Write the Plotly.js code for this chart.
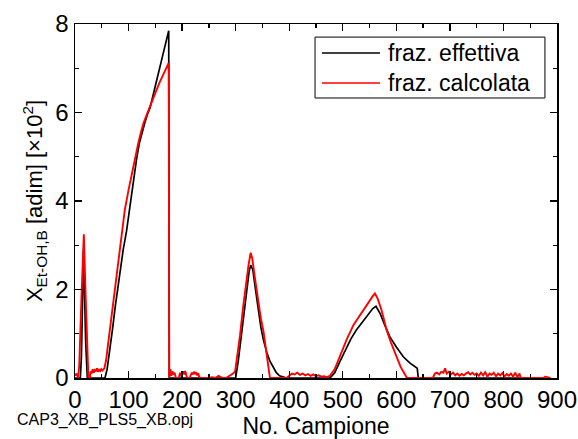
<!DOCTYPE html>
<html><head><meta charset="utf-8">
<script src="https://cdn.plot.ly/plotly-3.0.1.min.js"></script>
<style>html,body{margin:0;padding:0;background:#fff}#chart{width:578px;height:439px}</style>
</head><body><div id="chart"></div>
<script>
// frazione effettiva (black)
const effX = [0,10,12,16,20,23,50,56,60,65,70,75,80,85,90,96,100,105,110,115,120,125,130,135,140,145,150,155,160,165,170,173,175,176,
  300,305,310,315,320,325,328,332,337,342,347,352,358,364,370,376,382,390,395,
  476,485,495,507,515,525,538,548,556,562,570,580,588,600,613,625,635,639,641,840];
const effY = [0,0,0.5,2.9,0.8,0,0,0,0.2,0.6,1.1,1.6,2.05,2.5,2.9,3.3,3.65,4.1,4.6,4.95,5.3,5.55,5.75,5.95,6.1,6.35,6.6,6.85,7.1,7.35,7.6,7.75,7.85,0,
  0,0.4,0.9,1.45,1.95,2.4,2.55,2.45,2.0,1.55,1.15,0.85,0.58,0.38,0.24,0.12,0.05,0.01,0,
  0,0.12,0.38,0.67,0.88,1.08,1.28,1.45,1.57,1.62,1.45,1.15,0.93,0.7,0.48,0.34,0.25,0.22,0,0];
// frazione calcolata (red)
const calcX = [0,3,6,8,12,16.5,20,23,25,28,29,31,33,35,37,39,41,43,45,47,49,51,53,55,58,62,65,70,75,80,87,93,100,106,112,118,123,128,134,140,146,152,158,164,170,175,176,
  178,180,182,184,186,188,190,194,196,198,200,202,204,206,208,210,214,216,218,220,222,224,226,228,230,232,235,250,256,262,268,272,276,282,290,295,299,
  303,308,314,319,324,328,331,336,341,347,352,358,362,364,395,400,405,410,415,420,425,430,435,440,445,450,455,460,465,470,
  476,485,495,507,520,538,548,556,560,565,572,582,590,600,608,615,620,668,
  672,676,680,684,688,691,694,698,702,706,710,714,718,722,726,730,734,738,742,746,750,754,758,762,766,770,774,778,782,786,790,794,798,802,806,810,814,818,822,826,830,832,875,878,884,888];
const calcY = [0.05,0.1,0,0.3,1.8,3.25,1.8,0.5,0,0,0.15,0.1,0.2,0.12,0.18,0.15,0.22,0.14,0.2,0.16,0.2,0.17,0.2,0.22,0.4,0.8,1.05,1.5,2.0,2.55,3.27,3.8,4.25,4.62,5.0,5.3,5.55,5.76,5.95,6.15,6.33,6.5,6.68,6.85,7.02,7.12,0,
  0.2,0.05,0.15,0.08,0.12,0.02,0,0,0.12,0.04,0.1,0.15,0.08,0.16,0.05,0,0,0.06,0.12,0.08,0.14,0.1,0.13,0.06,0.11,0.02,0,0,0.02,0,0.05,0.02,0,0,0.05,0.1,0.15,
  0.5,0.95,1.61,2.15,2.55,2.83,2.7,2.25,1.8,1.35,1.05,0.48,0.12,0,0,0.05,0.1,0.08,0.12,0.07,0.1,0.06,0.09,0.05,0.08,0.04,0.06,0.03,0.04,0.02,
  0.05,0.2,0.5,0.86,1.2,1.54,1.72,1.85,1.91,1.8,1.55,1.08,0.8,0.48,0.25,0.1,0,0,
  0.1,0.12,0.08,0.14,0.12,0.22,0.1,0.14,0.08,0.12,0.06,0.1,0.05,0.09,0.06,0.1,0.13,0.08,0.12,0.07,0.1,0.05,0.12,0.06,0.13,0.03,0.1,0.07,0.12,0.04,0.1,0.06,0.11,0.03,0.09,0.05,0.1,0.03,0.12,0.02,0.1,0,0,0.03,0.02,0];
const seriesNames = ['fraz. effettiva','fraz. calcolata'];
const seriesColors = ['#000000','#ff0000'];

const font = 'Liberation Sans, Arial, sans-serif';
const data = [
  {x: effX, y: effY, type:'scatter', mode:'lines', name: seriesNames[0], line:{color:seriesColors[0], width:1.7}},
  {x: calcX, y: calcY, type:'scatter', mode:'lines', name: seriesNames[1], line:{color:seriesColors[1], width:1.9}}
];
const axisCommon = {
  showgrid:false, zeroline:false, showline:true, linecolor:'#000', linewidth:1.5,
  mirror:'ticks', ticks:'inside', ticklen:7, tickwidth:1.3, tickcolor:'#000',
  tickfont:{family:font, size:24, color:'#000'}
};
// custom legend (box, sample lines, labels) in paper coordinates
const legRows = [0.918, 0.833];
const shapes = [{type:'rect', xref:'paper', yref:'paper', x0:0.498, x1:0.975, y0:0.791, y1:0.963,
  line:{color:'#000', width:1}, fillcolor:'#fff', layer:'above'}];
const annotations = [];
seriesNames.forEach((n,i)=>{
  shapes.push({type:'line', xref:'paper', yref:'paper', x0:0.5124, x1:0.6328, y0:legRows[i], y1:legRows[i],
    line:{color:seriesColors[i], width:1.5}, layer:'above'});
  annotations.push({text:n, xref:'paper', yref:'paper', x:0.645, y:legRows[i], xanchor:'left', yanchor:'middle',
    showarrow:false, font:{family:font, size:23, color:'#000'}});
});
annotations.push({text:'CAP3_XB_PLS5_XB.opj', xref:'paper', yref:'paper', x:-0.125, y:-0.119, xanchor:'left', yanchor:'middle',
  showarrow:false, font:{family:font, size:16, color:'#000'}});

const layout = {
  width:578, height:439,
  margin:{l:75, r:21, t:24, b:61},
  paper_bgcolor:'#fff', plot_bgcolor:'#fff',
  showlegend:false,
  xaxis: Object.assign({}, axisCommon, {range:[0,900], dtick:100, tick0:0,
    minor:{ticks:'inside', ticklen:4, dtick:50, tickcolor:'#000'},
    title:{text:'No. Campione', font:{family:font, size:23, color:'#000'}, standoff:4}}),
  yaxis: Object.assign({}, axisCommon, {range:[0,8], dtick:2, tick0:0,
    minor:{ticks:'inside', ticklen:4, dtick:1, tickcolor:'#000'},
    title:{text:'X<sub>Et-OH,B</sub> [adim] [×10<sup>2</sup>]', font:{family:font, size:22, color:'#000'}, standoff:6}}),
  shapes: shapes,
  annotations: annotations
};
Plotly.newPlot('chart', data, layout, {displayModeBar:false, staticPlot:true});
</script></body></html>
